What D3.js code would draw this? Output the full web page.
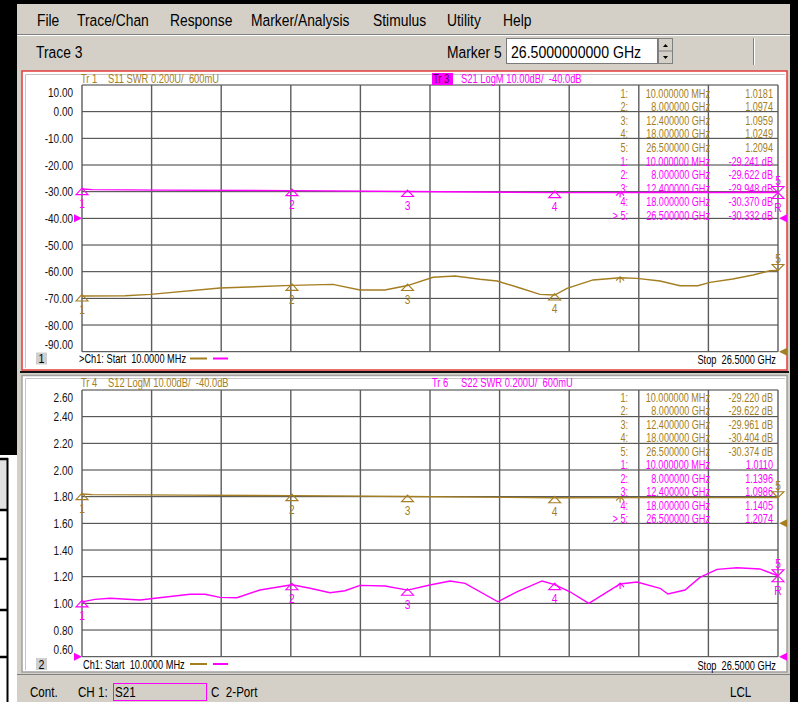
<!DOCTYPE html>
<html>
<head>
<meta charset="utf-8">
<script src="https://cdn.jsdelivr.net/npm/d3@7"></script>
<style>
body { margin: 0; background: #fff; }
svg text { font-family: "Liberation Sans", Arial, sans-serif; white-space: pre; }
</style>
</head>
<body>
<script>
/* network analyzer screen: two channel windows, 4 traces, marker tables */

const menuItems = ["File", "Trace/Chan", "Response", "Marker/Analysis", "Stimulus", "Utility", "Help"];
const menuX = [37, 77, 170, 251, 373, 447, 503];

const dbTicks = [10, 0, -10, -20, -30, -40, -50, -60, -70, -80, -90];
const swrTicks = [2.6, 2.4, 2.2, 2.0, 1.8, 1.6, 1.4, 1.2, 1.0, 0.8, 0.6];

// markers (GHz)
const markerFreq = [0.01, 8, 12.4, 18, 26.5];
const markerFreqText = ["10.000000 MHz", "8.000000 GHz", "12.400000 GHz", "18.000000 GHz", "26.500000 GHz"];
const s11Mk = [1.0181, 1.0974, 1.0959, 1.0249, 1.2094];
const s21Mk = [-29.241, -29.622, -29.948, -30.370, -30.332];
const s12Mk = [-29.220, -29.622, -29.961, -30.404, -30.374];
const s22Mk = [1.0110, 1.1396, 1.0986, 1.1405, 1.2074];
const extraMarkerFreq = 20.49;

// traces (GHz, value)
const s11F = [0.01, 1.65, 2.62, 5.26, 8.0, 9.56, 10.59, 11.54, 12.4, 13.37, 14.21, 15.16, 15.81, 16.68, 17.44, 18.0, 18.47, 19.46, 20.49, 21.13, 22.01, 22.77, 23.45, 23.91, 24.78, 25.55, 26.19, 26.5];
const s11V = [1.018, 1.020, 1.030, 1.078, 1.097, 1.105, 1.063, 1.063, 1.096, 1.158, 1.168, 1.143, 1.130, 1.078, 1.030, 1.025, 1.075, 1.138, 1.155, 1.150, 1.130, 1.095, 1.095, 1.120, 1.145, 1.175, 1.207, 1.209];

const s21F = [0.01, 0.4, 3, 8, 12.4, 15, 18, 22, 26.5];
const s21V = [-29.0, -29.24, -29.4, -29.62, -29.95, -30.1, -30.37, -30.3, -30.33];

const s12F = [0.01, 0.4, 4, 8, 12.4, 15, 18, 22, 26.5];
const s12V = [-29.0, -29.22, -29.4, -29.62, -29.96, -30.15, -30.40, -30.35, -30.37];

const s22F = [0.01, 0.50, 1.08, 2.22, 2.79, 4.12, 4.69, 5.26, 5.91, 6.78, 8.0, 8.69, 9.45, 10.02, 10.59, 11.54, 12.4, 13.25, 14.02, 14.59, 15.84, 16.56, 17.52, 18.0, 18.58, 19.30, 20.49, 21.13, 22.01, 22.31, 22.96, 23.53, 24.18, 24.94, 25.81, 26.5];
const s22V = [1.011, 1.030, 1.038, 1.025, 1.038, 1.068, 1.068, 1.045, 1.042, 1.100, 1.140, 1.113, 1.080, 1.095, 1.135, 1.130, 1.099, 1.138, 1.168, 1.150, 1.012, 1.087, 1.168, 1.1405, 1.087, 1.000, 1.145, 1.160, 1.113, 1.070, 1.100, 1.195, 1.255, 1.267, 1.258, 1.207];

const BROWN = '#a47e22';
const MAG = '#ff00ff';
const GRAY = '#d4d0c8';

const svg = d3.select('body').append('svg')
  .attr('width', 798)
  .attr('height', 702);

// condensed text (screen font is narrower than the installed ones)
function txt(g, x, y, s, o = {}) {
  return g.append('text')
    .attr('transform', `translate(${x},${y}) scale(${o.sx || 0.78},1)`)
    .attr('text-anchor', o.anchor || 'start')
    .attr('dominant-baseline', 'central')
    .attr('fill', o.fill || '#000')
    .style('font-size', (o.size || 12) + 'px')
    .text(s);
}

// ---- window chrome
svg.append('rect').attr('width', 798).attr('height', 702).attr('fill', '#000');
svg.append('rect').attr('x', 0).attr('y', 455).attr('width', 17).attr('height', 247).attr('fill', '#fff');
svg.append('rect').attr('x', 0).attr('y', 460).attr('width', 7).attr('height', 50).attr('fill', '#e2e2e2');
svg.append('line').attr('x1', 7.5).attr('x2', 7.5).attr('y1', 458).attr('y2', 702).attr('stroke', '#000').attr('stroke-width', 2);
[459, 510, 559, 610, 657].forEach(yy => {
  svg.append('line').attr('x1', 0).attr('x2', 8).attr('y1', yy).attr('y2', yy).attr('stroke', '#000').attr('stroke-width', 2.5);
});
svg.append('rect').attr('x', 17).attr('y', 4).attr('width', 773).attr('height', 698).attr('fill', GRAY);

menuItems.forEach((m, i) => txt(svg, menuX[i], 20, m, { size: 16.5, sx: 0.84 }));
svg.append('line').attr('x1', 17).attr('x2', 790).attr('y1', 34.5).attr('y2', 34.5).attr('stroke', '#808080');
svg.append('line').attr('x1', 17).attr('x2', 790).attr('y1', 35.5).attr('y2', 35.5).attr('stroke', '#fff');

txt(svg, 36, 52, 'Trace 3', { size: 16.5, sx: 0.84 });
txt(svg, 447, 52, 'Marker 5', { size: 16.5, sx: 0.84 });
svg.append('rect').attr('x', 506.5).attr('y', 38.5).attr('width', 151).attr('height', 25)
  .attr('fill', '#fff').attr('stroke', '#7a7a7a');
txt(svg, 511, 52, '26.5000000000 GHz', { size: 17, sx: 0.83 });
svg.append('rect').attr('x', 658.5).attr('y', 38.5).attr('width', 14).attr('height', 25)
  .attr('fill', GRAY).attr('stroke', '#808080');
svg.append('line').attr('x1', 658).attr('x2', 673).attr('y1', 51).attr('y2', 51).attr('stroke', '#808080');
svg.append('path').attr('d', 'M663,47 L665.5,44 L668,47 Z').attr('fill', '#000');
svg.append('path').attr('d', 'M663,56 L665.5,59 L668,56 Z').attr('fill', '#000');
svg.append('line').attr('x1', 753.5).attr('x2', 753.5).attr('y1', 38).attr('y2', 65).attr('stroke', '#808080');
svg.append('line').attr('x1', 754.5).attr('x2', 754.5).attr('y1', 38).attr('y2', 65).attr('stroke', '#fff');

// ---- channel windows
svg.append('rect').attr('x', 22).attr('y', 71).attr('width', 765).attr('height', 299)
  .attr('fill', '#fff').attr('stroke', '#e23c3c').attr('stroke-width', 1.5);
svg.append('path').attr('d', 'M25.5,368 L25.5,74.5 L785,74.5').attr('fill', 'none').attr('stroke', '#c4c4c4');
svg.append('line').attr('x1', 20).attr('x2', 789).attr('y1', 372).attr('y2', 372).attr('stroke', '#111').attr('stroke-width', 2);
svg.append('rect').attr('x', 22).attr('y', 375.5).attr('width', 765).attr('height', 296.5)
  .attr('fill', '#fff').attr('stroke', '#a0a0a0').attr('stroke-width', 1.5);
svg.append('path').attr('d', 'M25.5,670 L25.5,378.5 L785,378.5').attr('fill', 'none').attr('stroke', '#c4c4c4');
svg.append('line').attr('x1', 17).attr('x2', 790).attr('y1', 674.5).attr('y2', 674.5).attr('stroke', '#808080');

// scales
const x = d3.scaleLinear().domain([0.01, 26.5]).range([82, 778]);
const xDiv = d3.scaleLinear().domain([0, 10]).range([82, 778]);
const y1dB = d3.scaleLinear().domain([-90, 10]).range([351.7, 85]);
const y1Swr = d3.scaleLinear().domain([0.6, 2.6]).range([351.7, 85]);
const y2dB = d3.scaleLinear().domain([-90, 10]).range([656.7, 390]);
const y2Swr = d3.scaleLinear().domain([0.6, 2.6]).range([656.7, 390]);

function interp(fs, vs, f) {
  const i = Math.max(1, d3.bisectLeft(fs, f));
  const t = (f - fs[i - 1]) / (fs[i] - fs[i - 1]);
  return vs[i - 1] + t * (vs[i] - vs[i - 1]);
}

function grid(g, yScale, ticks) {
  g.selectAll('.hg').data(ticks).enter().append('line')
    .attr('x1', 82).attr('x2', 778)
    .attr('y1', d => yScale(d)).attr('y2', d => yScale(d))
    .attr('stroke', '#3a3a3a').attr('stroke-width', 1);
  g.selectAll('.vg').data(d3.range(11)).enter().append('line')
    .attr('x1', d => xDiv(d)).attr('x2', d => xDiv(d))
    .attr('y1', yScale.range()[1]).attr('y2', yScale.range()[0])
    .attr('stroke', '#5c5c5c').attr('stroke-width', 1.4);
}

function leftAxis(g, yScale, ticks, fmt) {
  const top = ticks[0], bot = ticks[ticks.length - 1];
  const ax = g.append('g')
    .attr('transform', 'translate(82,0)')
    .call(d3.axisLeft(yScale).tickValues(ticks).tickSize(0).tickPadding(9).tickFormat(fmt));
  ax.select('.domain').remove();
  ax.selectAll('text')
    .style('font-size', '12.5px')
    .style('font-family', '"Liberation Sans", Arial, sans-serif')
    .attr('fill', '#111')
    .attr('x', -9 / 0.8)
    .attr('transform', 'scale(0.8,1)')
    .attr('dy', d => d === top ? '0.88em' : d === bot ? '-0.22em' : '0.33em');
}

function trace(g, fs, vs, yScale, color) {
  const line = d3.line().x(d => x(d[0])).y(d => yScale(d[1]));
  g.append('path')
    .datum(d3.zip(fs, vs))
    .attr('fill', 'none')
    .attr('stroke', color)
    .attr('stroke-width', 1.4)
    .attr('d', line);
}

function markers(g, mk, yScale, color, fs, vs, active) {
  for (let i = 0; i < 4; i++) {
    const px = x(markerFreq[i]), py = yScale(mk[i]);
    g.append('path')
      .attr('d', `M${px},${py - 1.5} L${px - 6},${py + 5} L${px + 6},${py + 5} Z`)
      .attr('fill', 'none').attr('stroke', color).attr('stroke-width', 1.1);
    txt(g, px, py + 14, String(i + 1), { anchor: 'middle', fill: color, size: 12, sx: 0.85 });
  }
  // marker 5 at stop frequency
  const px = x(markerFreq[4]), py = yScale(mk[4]);
  let d = `M${px - 6},${py - 6} L${px + 6},${py - 6} L${px},${py} Z`;
  if (active) d += ` M${px},${py} L${px - 6},${py + 6} L${px + 6},${py + 6} Z`;
  g.append('path').attr('d', d).attr('fill', 'none').attr('stroke', color).attr('stroke-width', 1.1);
  txt(g, px, py - 12, '5', { anchor: 'middle', fill: color, size: 12, sx: 0.85 });
  if (active) txt(g, px, py + 15, 'R', { anchor: 'middle', fill: color, size: 12, sx: 0.85 });
  // unnumbered marker
  const ex = x(extraMarkerFreq), ey = yScale(interp(fs, vs, extraMarkerFreq));
  g.append('path')
    .attr('d', `M${ex - 4},${ey + 3} L${ex},${ey - 1} L${ex + 4},${ey + 3} M${ex},${ey - 1} L${ex},${ey + 5}`)
    .attr('fill', 'none').attr('stroke', color).attr('stroke-width', 1.1);
}

function table(g, y0, rows) {
  rows.forEach((r, i) => {
    const yy = y0 + i * 13.55;
    txt(g, 628, yy, r.id, { anchor: 'end', fill: r.color, size: 12, sx: 0.76 });
    txt(g, 710, yy, r.freq, { anchor: 'end', fill: r.color, size: 12, sx: 0.76 });
    txt(g, 773, yy, r.val, { anchor: 'end', fill: r.color, size: 12, sx: 0.76 });
  });
}

function refArrow(g, side, yy, color) {
  const d = side === 'left'
    ? `M74,${yy - 4} L82,${yy} L74,${yy + 4} Z`
    : `M787,${yy - 4} L779,${yy} L787,${yy + 4} Z`;
  g.append('path').attr('d', d).attr('fill', color);
}

function footer(g, num, yy, startText, startX) {
  g.append('rect').attr('x', 36).attr('y', yy - 6).attr('width', 11).attr('height', 12).attr('fill', '#cfcfcf');
  txt(g, 41.5, yy, num, { anchor: 'middle', size: 12.5, sx: 0.85 });
  txt(g, startX, yy, startText, { size: 12.5, sx: 0.74 });
  g.append('line').attr('x1', 190).attr('x2', 207).attr('y1', yy).attr('y2', yy).attr('stroke', BROWN).attr('stroke-width', 2);
  g.append('line').attr('x1', 213).attr('x2', 228).attr('y1', yy).attr('y2', yy).attr('stroke', MAG).attr('stroke-width', 2);
  txt(g, 776, yy + 1, 'Stop  26.5000 GHz', { anchor: 'end', size: 12.5, sx: 0.74 });
}

const fmtDb = d => d.toFixed(2);
const fmtSwr = d => d.toFixed(2);
const ids = ['1:', '2:', '3:', '4:', '5:'];
const idsActive = ['1:', '2:', '3:', '4:', '> 5:'];

// ---- channel window 1 : S11 SWR (brown), S21 LogM (magenta, active)
const g1 = svg.append('g');
grid(g1, y1dB, dbTicks);
leftAxis(g1, y1dB, dbTicks, fmtDb);
txt(g1, 81, 79, 'Tr 1', { fill: BROWN });
txt(g1, 108, 79, 'S11 SWR 0.200U/  600mU', { fill: BROWN });
g1.append('rect').attr('x', 432).attr('y', 73).attr('width', 21).attr('height', 12).attr('fill', MAG);
txt(g1, 433, 79, 'Tr 3', { fill: '#5a005a' });
txt(g1, 461, 79, 'S21 LogM 10.00dB/  -40.0dB', { fill: MAG });

table(g1, 93.3,
  markerFreqText.map((f, i) => ({ id: ids[i], freq: f, val: s11Mk[i].toFixed(4), color: BROWN }))
    .concat(markerFreqText.map((f, i) => ({ id: idsActive[i], freq: f, val: s21Mk[i].toFixed(3) + ' dB', color: MAG }))));

trace(g1, s11F, s11V, y1Swr, BROWN);
trace(g1, s21F, s21V, y1dB, MAG);
markers(g1, s11Mk, y1Swr, BROWN, s11F, s11V, false);
markers(g1, s21Mk, y1dB, MAG, s21F, s21V, true);
refArrow(g1, 'left', y1dB(-40), MAG);
refArrow(g1, 'right', y1dB(-40), MAG);
refArrow(g1, 'right', y1Swr(0.6), BROWN);
footer(g1, '1', 358.5, '>Ch1: Start  10.0000 MHz', 79);

// ---- channel window 2 : S12 LogM (brown), S22 SWR (magenta, active)
const g2 = svg.append('g');
grid(g2, y2Swr, swrTicks);
leftAxis(g2, y2Swr, swrTicks, fmtSwr);
txt(g2, 81, 383, 'Tr 4', { fill: BROWN });
txt(g2, 108, 383, 'S12 LogM 10.00dB/  -40.0dB', { fill: BROWN });
txt(g2, 432, 383, 'Tr 6', { fill: MAG });
txt(g2, 461, 383, 'S22 SWR 0.200U/  600mU', { fill: MAG });

table(g2, 397,
  markerFreqText.map((f, i) => ({ id: ids[i], freq: f, val: s12Mk[i].toFixed(3) + ' dB', color: BROWN }))
    .concat(markerFreqText.map((f, i) => ({ id: idsActive[i], freq: f, val: s22Mk[i].toFixed(4), color: MAG }))));

trace(g2, s12F, s12V, y2dB, BROWN);
trace(g2, s22F, s22V, y2Swr, MAG);
markers(g2, s12Mk, y2dB, BROWN, s12F, s12V, false);
markers(g2, s22Mk, y2Swr, MAG, s22F, s22V, true);
refArrow(g2, 'left', y2Swr(0.6), MAG);
refArrow(g2, 'right', y2Swr(0.6), MAG);
refArrow(g2, 'right', y2dB(-40), BROWN);
footer(g2, '2', 664, 'Ch1: Start  10.0000 MHz', 83);

// ---- status bar
const sb = svg.append('g');
txt(sb, 30, 692, 'Cont.', { size: 14.5, sx: 0.8 });
txt(sb, 78, 692, 'CH 1:', { size: 14.5, sx: 0.8 });
sb.append('rect').attr('x', 113.5).attr('y', 683.5).attr('width', 93).attr('height', 17)
  .attr('fill', 'none').attr('stroke', MAG);
txt(sb, 115, 692, 'S21', { size: 14.5, sx: 0.8 });
txt(sb, 211, 692, 'C  2-Port', { size: 14.5, sx: 0.8 });
txt(sb, 730, 692, 'LCL', { size: 14.5, sx: 0.8 });
</script>
</body>
</html>
